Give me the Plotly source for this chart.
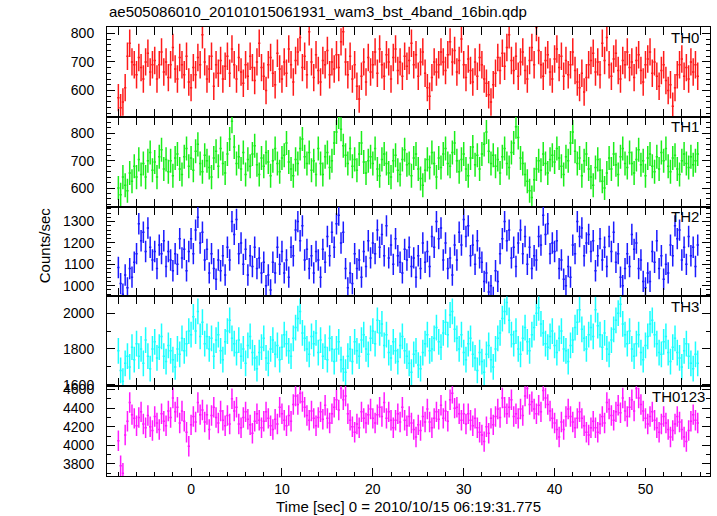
import plotly.graph_objects as go

# ---- data (counts/sec, 0.25 s bins starting at -8 s) ----
t_start = -8.0
bin_width = 0.25

th0 = [575,540,560,610,720,765,700,690,655,715,680,640,700,730,665,690,
       705,640,690,735,665,700,645,690,750,675,640,715,690,655,720,630,
       610,680,655,715,690,795,700,640,675,720,615,690,660,705,640,685,
       720,660,745,690,640,715,665,625,690,650,720,680,635,700,765,680,
       650,600,690,715,660,620,730,675,640,700,660,745,690,630,705,735,
       785,680,720,655,805,700,645,725,670,630,705,690,740,655,700,675,
       725,680,770,805,700,655,720,640,690,615,570,650,700,630,715,665,
       690,735,660,745,690,650,725,700,640,715,745,670,700,650,720,685,
       705,765,690,725,650,700,735,660,610,580,645,700,665,690,735,700,
       670,725,770,700,740,665,705,780,690,645,710,670,630,700,650,715,
       690,640,625,585,560,620,660,715,670,730,685,750,795,705,670,720,
       650,700,735,670,640,705,750,690,820,740,690,650,705,725,665,640,
       710,745,680,720,650,705,655,690,735,670,630,610,660,595,645,690,
       705,730,665,700,655,765,705,785,690,650,710,730,670,640,705,690,
       735,680,700,645,705,725,670,630,690,710,735,660,700,650,615,670,
       690,635,600,620,545,610,655,690,710,650,680,640,700,665,690,650]

th1 = [600,575,640,610,590,655,625,680,640,705,650,690,640,700,730,665,
       695,640,715,740,670,705,660,700,645,710,725,670,650,715,745,680,
       710,665,735,760,690,660,720,700,675,640,710,735,680,745,690,655,
       725,780,845,750,690,715,670,730,650,705,680,725,755,685,650,710,
       680,730,695,645,700,745,690,660,710,720,765,695,670,645,705,690,
       745,780,715,690,730,665,700,650,745,690,650,715,730,675,700,765,
       805,860,815,755,720,690,745,680,705,665,725,765,695,655,700,715,
       690,745,670,645,705,725,690,655,640,700,720,665,650,705,740,685,
       690,645,710,725,670,635,610,665,705,675,730,690,640,710,675,725,
       745,690,680,730,765,700,660,705,725,670,645,710,750,685,720,670,
       725,760,805,735,690,720,680,705,655,715,745,690,675,730,765,825,
       785,710,690,650,625,590,565,630,670,700,665,725,690,655,705,720,
       695,745,710,680,650,715,700,765,805,735,690,710,645,700,725,670,
       640,610,675,705,665,625,600,655,710,670,725,685,650,715,745,690,
       675,730,690,655,705,740,685,700,645,710,725,680,660,715,670,730,
       700,745,680,660,710,720,670,650,700,725,690,675,715,685,700,725]

th2 = [1085,1010,960,1050,990,1080,1040,1110,1150,1290,1210,1250,1160,1270,1180,1120,
       1160,1080,1190,1150,1210,1090,1160,1120,1070,1150,1100,1220,1130,1170,1070,1160,
       1220,1150,1260,1320,1200,1250,1120,1170,1060,1150,1080,1030,1120,1070,1140,1050,
       1180,1120,1300,1240,1310,1150,1200,1100,1170,1050,1140,1090,1180,1080,1130,1060,
       1110,1000,1050,980,1110,1060,1180,1100,1160,1060,1120,1040,1180,1140,1260,1300,
       1210,1280,1120,1170,1080,1140,1060,1160,1120,1040,1170,1110,1230,1140,1250,1180,
       1290,1330,1200,1250,1080,990,1060,1010,1150,1080,1120,1040,1160,1090,1210,1130,
       1200,1150,1260,1180,1240,1140,1280,1130,1190,1100,1220,1140,1110,1060,1170,1120,
       1180,1090,1130,1040,1140,1080,1200,1110,1160,1090,1230,1180,1300,1220,1270,1120,
       1200,1080,1130,1050,1190,1120,1250,1190,1310,1230,1280,1140,1190,1100,1210,1130,
       1110,1020,1060,970,1000,945,1070,1020,1150,1220,1300,1210,1260,1130,1180,1090,
       1200,1260,1150,1230,1100,1180,1080,1140,1120,1230,1190,1330,1240,1290,1150,1200,
       1160,1210,1080,1120,1030,1000,1090,1040,1190,1150,1300,1230,1270,1140,1200,1240,
       1160,1210,1070,1140,1220,1120,1180,1090,1230,1160,1250,1110,1150,1040,1000,1080,
       1150,1090,1240,1170,1200,1080,1120,1020,990,1060,1020,1160,1110,1210,1080,1140,
       1030,1100,1060,1190,1140,1280,1220,1260,1120,1180,1100,1230,1140,1180,1090,1190]

th3 = [1790,1680,1620,1720,1760,1700,1810,1740,1830,1760,1800,1720,1850,1760,1690,1800,
       1840,1750,1810,1870,1760,1730,1820,1790,1740,1700,1800,1770,1860,1790,1830,1900,
       1880,1980,1900,2010,1870,1950,1830,1870,1800,1860,1760,1850,1880,1790,1740,1840,
       1900,1960,1860,1830,1780,1850,1760,1800,1720,1820,1870,1780,1750,1690,1780,1810,
       1860,1750,1720,1800,1850,1770,1820,1740,1810,1880,1830,1790,1760,1860,1920,1970,
       2010,1890,1860,1800,1770,1870,1830,1890,1780,1850,1760,1810,1740,1860,1800,1730,
       1800,1840,1740,1690,1670,1760,1800,1730,1840,1790,1760,1850,1880,1800,1770,1860,
       1900,1830,1960,1890,1940,1820,1880,1780,1750,1840,1790,1730,1820,1870,1790,1760,
       1720,1670,1770,1790,1710,1690,1780,1830,1880,1790,1800,1860,1920,1840,1810,1890,
       1950,1880,1990,2010,1910,1860,1800,1880,1780,1740,1830,1860,1770,1750,1680,1780,
       1730,1670,1770,1820,1740,1700,1800,1860,1890,1970,2010,2060,1960,1880,1830,1900,
       1800,1770,1860,1920,1840,1790,1880,1920,2000,2030,1940,1890,1830,1810,1870,1900,
       1820,1780,1860,1900,1800,1790,1730,1820,1850,1920,1950,2020,1910,1860,1800,1880,
       1920,1870,2020,1930,1880,1810,1890,1800,1770,1850,1910,1960,2000,2050,1940,1880,
       1830,1900,1800,1760,1830,1880,1780,1740,1820,1870,1940,1960,1880,1830,1780,1770,
       1840,1870,1780,1730,1810,1860,1780,1750,1700,1790,1830,1760,1720,1690,1770,1720]

th0123 = [4050,3780,3700,4110,4260,4460,4330,4290,4210,4300,4360,4230,4190,4320,4200,4160,
          4310,4240,4170,4340,4260,4210,4370,4300,4510,4360,4410,4240,4370,4260,4140,3990,
          4220,4310,4250,4460,4330,4380,4250,4330,4170,4320,4410,4300,4240,4370,4270,4210,
          4320,4230,4500,4370,4410,4230,4190,4300,4360,4280,4220,4130,4260,4340,4270,4190,
          4260,4360,4290,4210,4170,4280,4230,4410,4340,4270,4210,4320,4260,4440,4530,4440,
          4560,4470,4410,4320,4270,4370,4290,4210,4300,4360,4280,4430,4290,4240,4340,4410,
          4490,4380,4610,4490,4530,4340,4270,4200,4140,4230,4190,4360,4290,4240,4330,4390,
          4290,4240,4330,4410,4310,4460,4290,4360,4270,4190,4270,4340,4250,4410,4270,4210,
          4310,4240,4170,4090,4220,4160,4310,4250,4390,4250,4190,4290,4360,4280,4430,4290,
          4370,4260,4490,4560,4400,4410,4340,4270,4340,4230,4340,4270,4210,4290,4190,4140,
          4110,4040,4200,4130,4290,4220,4310,4390,4300,4510,4410,4340,4410,4490,4310,4340,
          4290,4390,4320,4530,4610,4440,4470,4390,4340,4430,4360,4590,4510,4440,4370,4290,
          4240,4170,4090,4250,4170,4310,4390,4310,4250,4190,4290,4360,4290,4210,4140,4110,
          4190,4260,4190,4140,4230,4310,4240,4460,4390,4320,4270,4360,4430,4350,4510,4370,
          4310,4410,4490,4370,4610,4510,4440,4370,4290,4230,4310,4360,4270,4190,4140,4230,
          4310,4240,4170,4090,4160,4230,4310,4250,4170,4090,4040,4160,4260,4330,4270,4240]

panel_names = ["TH0", "TH1", "TH2", "TH3", "TH0123"]
panel_values = [th0, th1, th2, th3, th0123]
panel_errors = [48, 44, 50, 72, 110]          # typical 1-sigma error (counts/sec)
panel_colors = ["#ff1a1a", "#1aee1a", "#1a1aff", "#1affff", "#ff1aff"]
panel_ranges = [[508, 822], [532, 861], [950, 1370], [1592, 2094], [3670, 4636]]
panel_dticks = [100, 100, 100, 200, 200]
panel_minor = [20, 20, 20, 100, 100]

x_range = [-9.25, 57.1]
title_text = "ae505086010_20101015061931_wam3_bst_4band_16bin.qdp"
xtitle_text = "Time [sec] 0 = 2010/10/15 06:19:31.775"
ytitle_text = "Counts/sec"

FONT = "Liberation Sans, Arial, Helvetica, sans-serif"

fig = go.Figure()
n = len(panel_names)
layout_axes = {}
annotations = []
for i, (name, vals, err, col) in enumerate(zip(panel_names, panel_values, panel_errors, panel_colors)):
    times = [t_start + bin_width * k for k in range(len(vals))]
    yname = "y" if i == 0 else f"y{i+1}"
    fig.add_trace(go.Scatter(
        x=times, y=vals, mode="markers", xaxis="x", yaxis=yname,
        marker=dict(size=1, color=col),
        error_y=dict(type="constant", value=err, thickness=1.5, width=0, color=col),
        error_x=dict(type="constant", value=bin_width / 2, thickness=1.5, width=0, color=col),
        showlegend=False, hoverinfo="skip"))
    top = 1 - i / n
    bot = 1 - (i + 1) / n
    key = "yaxis" if i == 0 else f"yaxis{i+1}"
    layout_axes[key] = dict(
        domain=[bot, top], anchor="x", range=panel_ranges[i],
        dtick=panel_dticks[i], tick0=0, ticks="inside", ticklen=8, tickwidth=1,
        tickcolor="black", showline=True, linecolor="black", linewidth=1,
        mirror="allticks", showgrid=False, zeroline=False,
        tickfont=dict(family=FONT, size=14, color="black"), ticklabelstandoff=9,
        minor=dict(dtick=panel_minor[i], ticks="inside", ticklen=4, tickcolor="black", showgrid=False))
    annotations.append(dict(
        text=name, xref="paper", yref=f"{yname} domain", x=1, y=1,
        xanchor="right", yanchor="middle", xshift=-3 if name == "TH0123" else -9, yshift=-10,
        showarrow=False, font=dict(family=FONT, size=15, color="black")))

annotations.append(dict(text=title_text, xref="paper", yref="paper", x=0, y=1,
                        xanchor="left", yanchor="middle", xshift=0, yshift=16, showarrow=False,
                        font=dict(family=FONT, size=15, color="black")))
annotations.append(dict(text=xtitle_text, xref="paper", yref="paper", x=0.5, y=0,
                        xanchor="center", yanchor="middle", yshift=-30, showarrow=False,
                        font=dict(family=FONT, size=15, color="black")))
annotations.append(dict(text=ytitle_text, xref="paper", yref="paper", x=0, y=0.514,
                        xanchor="center", yanchor="middle", xshift=-63, textangle=-90,
                        showarrow=False, font=dict(family=FONT, size=15, color="black")))

fig.update_layout(
    width=717, height=516,
    margin=dict(l=107, r=7, t=27, b=40, pad=0),
    paper_bgcolor="white", plot_bgcolor="white",
    xaxis=dict(anchor=f"y{n}", range=x_range, dtick=10, tick0=0, ticks="inside",
               ticklen=8, tickwidth=1, tickcolor="black", showline=True, linecolor="black",
               linewidth=1, mirror="allticks", showgrid=False, zeroline=False,
               tickfont=dict(family=FONT, size=14, color="black"),
               minor=dict(dtick=2, ticks="inside", ticklen=4, tickcolor="black", showgrid=False)),
    annotations=annotations,
    **layout_axes)

fig.write_html("out.html", config={"displayModeBar": False},
               post_script="document.body.style.margin='0';")
